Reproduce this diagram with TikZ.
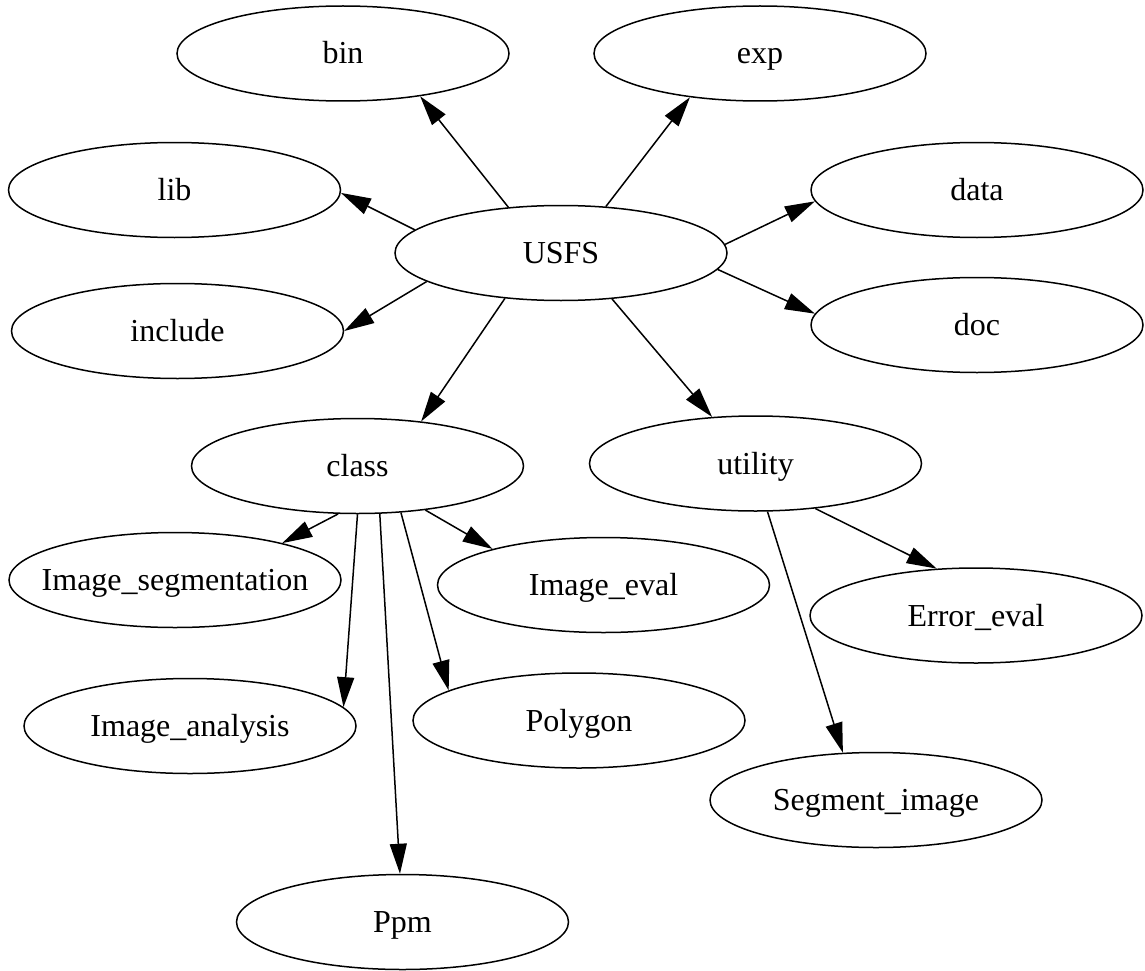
\documentclass[tikz,border=0pt]{standalone}
\usepackage{fontspec}
\setmainfont{Liberation Serif}
\usetikzlibrary{arrows.meta,shapes.geometric}
\tikzset{
  ell/.style={ellipse, draw, line width=1.5pt, minimum width=332pt, minimum height=95pt,
    inner sep=0pt, text height=24pt, text depth=3pt, font=\fontsize{32}{38}\selectfont},
  arr/.style={line width=1.5pt, -{Triangle[length=30pt,width=17pt]}}
}
\newcommand{\lbl}[1]{\makebox[0pt]{#1}}
\begin{document}
\begin{tikzpicture}[x=1pt,y=-1pt]
\useasboundingbox (0,0) rectangle (1145,971);
\node[ell] (bin) at (343,53.5) {\lbl{bin}};
\node[ell] (exp) at (760,53.5) {\lbl{exp}};
\node[ell] (lib) at (174.5,190) {\lbl{lib}};
\node[ell] (data) at (977,190) {\lbl{data}};
\node[ell] (usfs) at (561,253) {\lbl{USFS}};
\node[ell] (include) at (177.5,331) {\lbl{include}};
\node[ell] (doc) at (977,325) {\lbl{doc}};
\node[ell] (class) at (357.5,466) {\lbl{class}};
\node[ell] (utility) at (755.5,463.5) {\lbl{utility}};
\node[ell] (iseg) at (175,580) {\lbl{Image\_segmentation}};
\node[ell] (ieval) at (603.5,585) {\lbl{Image\_eval}};
\node[ell] (erreval) at (976,615.5) {\lbl{Error\_eval}};
\node[ell] (ianal) at (190,726) {\lbl{Image\_analysis}};
\node[ell] (polygon) at (579,720.5) {\lbl{Polygon}};
\node[ell] (segimg) at (876,800) {\lbl{Segment\_image}};
\node[ell] (ppm) at (402.5,922) {\lbl{Ppm}};
\draw[arr] (usfs.139.5) -- (bin.-29.3);
\draw[arr] (usfs.46.2) -- (exp.-148.4);
\draw[arr] (usfs.171) -- (lib.-1.4);
\draw[arr] (usfs.192) -- (include.0.7);
\draw[arr] (usfs.3.4) -- (data.184.5);
\draw[arr] (usfs.-6.9) -- (doc.176.6);
\draw[arr] (usfs.219.8) -- (class.35);
\draw[arr] (usfs.-42) -- (utility.133.2);
\draw[arr] (class.248.3) -- (iseg.19.6);
\draw[arr] (class.-90.6) -- (ianal.7.3);
\draw[arr] (class.-65) -- (ppm.93);
\draw[arr] (class.-47.4) -- (polygon.167.8);
\draw[arr] (class.-33.1) -- (ieval.162.6);
\draw[arr] (utility.-76.2) -- (segimg.125.4);
\draw[arr] (utility.-37.5) -- (erreval.130.8);
\end{tikzpicture}
\end{document}
